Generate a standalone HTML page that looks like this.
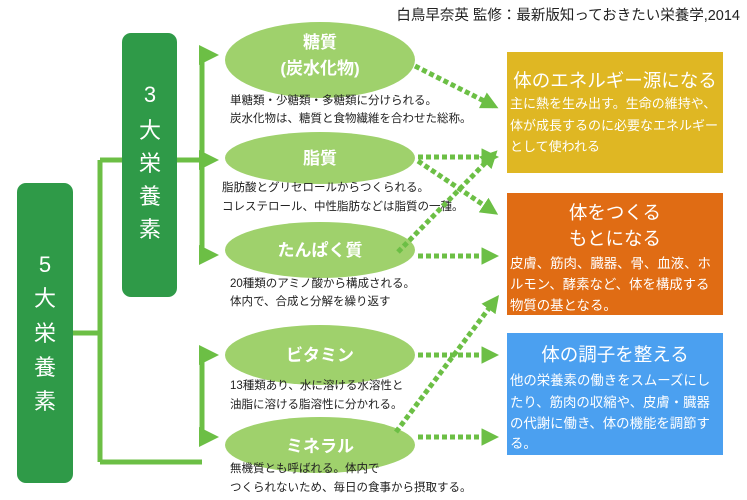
<!DOCTYPE html>
<html><head><meta charset="utf-8"><style>
body{margin:0;background:#fff;}
svg{display:block;font-family:"Liberation Sans","Noto Sans CJK JP",sans-serif;}
</style></head><body>
<svg width="747" height="500" viewBox="0 0 747 500">
<defs>
<marker id="a" markerWidth="4" markerHeight="4" refX="3" refY="2" orient="auto" markerUnits="strokeWidth"><path d="M0,0 L4,2 L0,4 Z" fill="#6cbf45"/></marker>
<marker id="d" markerWidth="3.5" markerHeight="3.5" refX="2.5" refY="1.75" orient="auto" markerUnits="strokeWidth"><path d="M0,0 L3.5,1.75 L0,3.5 Z" fill="#6cbf45"/></marker>
</defs>
<text x="740" y="20" font-size="14.5" text-anchor="end" fill="#222">白鳥早奈英 監修：最新版知っておきたい栄養学,2014</text>

<g stroke="#6cbf45" stroke-width="5" fill="none">
<path d="M73,333 H100 M100,160 V462 M100,160 H122 M100,462 H202 M202,355 V437"/>
<path d="M177,160 H202 M202,55 V255"/>
</g>
<g stroke="#6cbf45" stroke-width="5" fill="none">
<path d="M200,55 H214" marker-end="url(#a)"/>
<path d="M200,160 H214" marker-end="url(#a)"/>
<path d="M200,255 H214" marker-end="url(#a)"/>
<path d="M200,355 H214" marker-end="url(#a)"/>
<path d="M200,437 H214" marker-end="url(#a)"/>
</g>

<rect x="17" y="183" width="56" height="300" rx="9" fill="#2f9a48"/>
<g fill="#fff" font-size="22" text-anchor="middle">
<text x="45" y="272">5</text><text x="45" y="306">大</text><text x="45" y="341">栄</text><text x="45" y="375">養</text><text x="45" y="409">素</text>
</g>
<rect x="122" y="33" width="55" height="264" rx="9" fill="#2f9a48"/>
<g fill="#fff" font-size="22" text-anchor="middle">
<text x="150" y="102">3</text><text x="150" y="138">大</text><text x="150" y="171">栄</text><text x="150" y="204">養</text><text x="150" y="237">素</text>
</g>

<g fill="#9fd16c">
<ellipse cx="320" cy="60" rx="95" ry="38"/>
<ellipse cx="320" cy="158" rx="95" ry="26"/>
<ellipse cx="320" cy="250" rx="95" ry="28"/>
<ellipse cx="320" cy="355" rx="95" ry="30"/>
<ellipse cx="320" cy="445" rx="95" ry="28"/>
</g>
<g fill="#fff" font-size="17" font-weight="bold" text-anchor="middle">
<text x="320" y="48">糖質</text><text x="320" y="74">(炭水化物)</text>
<text x="320" y="164">脂質</text>
<text x="320" y="256">たんぱく質</text>
<text x="320" y="361">ビタミン</text>
<text x="320" y="452">ミネラル</text>
</g>
<g fill="#222" font-size="11.5">
<text x="230" y="104">単糖類・少糖類・多糖類に分けられる。</text>
<text x="230" y="122">炭水化物は、糖質と食物繊維を合わせた総称。</text>
<text x="222" y="191">脂肪酸とグリセロールからつくられる。</text>
<text x="222" y="210">コレステロール、中性脂肪などは脂質の一種。</text>
<text x="230" y="287">20種類のアミノ酸から構成される。</text>
<text x="230" y="305">体内で、合成と分解を繰り返す</text>
<text x="230" y="389">13種類あり、水に溶ける水溶性と</text>
<text x="230" y="408">油脂に溶ける脂溶性に分かれる。</text>
<text x="230" y="472">無機質とも呼ばれる。体内で</text>
<text x="230" y="491">つくられないため、毎日の食事から摂取する。</text>
</g>

<g stroke="#6cbf45" stroke-width="5" stroke-dasharray="5,3" fill="none">
<path d="M415,66 L494,106" marker-end="url(#d)"/>
<path d="M418,157 L494,157" marker-end="url(#d)"/>
<path d="M418,161 L494,212" marker-end="url(#d)"/>
<path d="M398,252 L494,154" marker-end="url(#d)"/>
<path d="M418,256 L494,256" marker-end="url(#d)"/>
<path d="M418,355 L494,355" marker-end="url(#d)"/>
<path d="M396,432 L496,299" marker-end="url(#d)"/>
<path d="M418,437 L494,437" marker-end="url(#d)"/>
</g>

<rect x="507" y="52" width="216" height="121" fill="#dfb723"/>
<rect x="507" y="193" width="216" height="122" fill="#e06c14"/>
<rect x="507" y="333" width="216" height="122" fill="#4ba0f0"/>
<g fill="#fff">
<text x="615" y="87" font-size="18.5" text-anchor="middle">体のエネルギー源になる</text>
<g font-size="13"><text x="510" y="108">主に熱を生み出す。生命の維持や、</text>
<text x="510" y="130">体が成長するのに必要なエネルギー</text>
<text x="510" y="151">として使われる</text></g>
<text x="615" y="219" font-size="18.5" text-anchor="middle">体をつくる</text>
<text x="615" y="245" font-size="18.5" text-anchor="middle">もとになる</text>
<g font-size="13.4"><text x="510" y="268">皮膚、筋肉、臓器、骨、血液、ホ</text>
<text x="510" y="289">ルモン、酵素など、体を構成する</text>
<text x="510" y="310">物質の基となる。</text></g>
<text x="615" y="361" font-size="18.5" text-anchor="middle">体の調子を整える</text>
<g font-size="13.4"><text x="510" y="385">他の栄養素の働きをスムーズにし</text>
<text x="510" y="407">たり、筋肉の収縮や、皮膚・臓器</text>
<text x="510" y="428">の代謝に働き、体の機能を調節す</text>
<text x="510" y="448">る。</text></g>
</g>
</svg>
</body></html>
